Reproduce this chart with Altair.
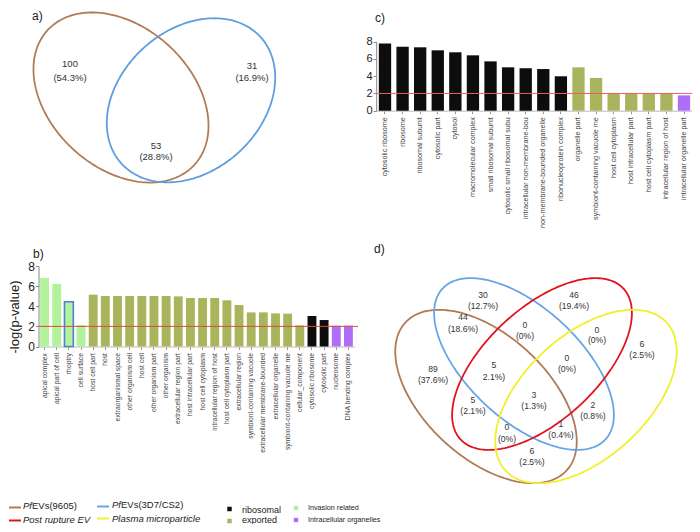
import altair as alt
import numpy as np
import pandas as pd

FONT = "Liberation Sans"

# ---------------- data ----------------
group_names = ["ribosomal", "exported", "Invasion related", "Intracellular organelles"]
group_colors = ["#0d0d0d", "#a9b45c", "#b2f29a", "#b06ef8"]

b_terms = ["apical complex", "apical part of cell", "rhoptry", "cell surface", "host cell part", "host",
           "extraorganismal space", "other organism cell", "host cell", "other organism part",
           "other organism", "extracellular region part", "host intracellular part", "host cell cytoplasm",
           "intracellular region of host", "host cell cytoplasm part", "extracellular region",
           "symbiont-containing vacuole", "extracellular membrane-bounded", "extracellular organelle",
           "symbiont-containing vacuole me", "cellular_component", "cytosolic ribosome", "cytosolic part",
           "nucleosome", "DNA bending complex"]
b_values = [6.80, 6.21, 4.45, 2.14, 5.15, 5.02, 5.02, 5.02, 5.02, 5.02, 5.02, 4.98, 4.82, 4.82, 4.82,
            4.59, 4.12, 3.39, 3.39, 3.29, 3.26, 2.10, 3.03, 2.63, 2.07, 2.07]
b_groups = ["Invasion related"] * 4 + ["exported"] * 18 + ["ribosomal"] * 2 + ["Intracellular organelles"] * 2

c_terms = ["cytosolic ribosome", "ribosome", "ribosomal subunit", "cytosolic part", "cytosol",
           "macromolecular complex", "small ribosomal subunit", "cytosolic small ribosomal subu",
           "intracellular non-membrane-bou", "non-membrane-bounded organelle", "ribonucleoprotein complex",
           "organelle part", "symbiont-containing vacuole me", "host cell cytoplasm", "host intracellular part",
           "host cell cytoplasm part", "intracellular region of host", "intracellular organelle part"]
c_values = [7.80, 7.42, 7.35, 7.00, 6.77, 6.42, 5.72, 5.03, 4.91, 4.83, 3.99, 5.03, 3.79, 2.02, 2.02,
            2.02, 2.02, 1.78]
c_groups = ["ribosomal"] * 11 + ["exported"] * 6 + ["Intracellular organelles"]

threshold = [2]

# Venn diagrams: sets
venn_sets = ["a_9605", "a_3D7", "d_9605", "d_3D7", "d_rupture", "d_plasma"]
venn_colors = ["#b27c56", "#5d9de0", "#b07a55", "#66a6e8", "#e0141e", "#f0f02a"]
# ellipse geometry (page pixels)
ell_cx = [121, 191, 486, 524, 542, 586]
ell_cy = [97.5, 100.3, 396.5, 364, 364, 396.5]
ell_a = [99.6, 94, 109.4, 111, 111, 109.4]
ell_b = [70.5, 70.6, 61.5, 56, 56, 61.5]
ell_rot = [42.5, -42.3, 42.5, 42.8, -42.8, -42.5]

# Venn a labels
a_counts = ["100", "31", "53"]
a_pcts = ["(54.3%)", "(16.9%)", "(28.8%)"]
a_lx = [70, 252, 156]
a_cy = [63.5, 66, 145.5]
a_py = [77.5, 77.5, 157]

# Venn d labels
d_counts = ["30", "46", "44", "0", "0", "6", "89", "5", "0", "5", "3", "2", "0", "1", "6"]
d_pcts = ["(12.7%)", "(19.4%)", "(18.6%)", "(0%)", "(0%)", "(2.5%)", "(37.6%)", "2.1%)", "(0%)",
          "(2.1%)", "(1.3%)", "(0.8%)", "(0%)", "(0.4%)", "(2.5%)"]
d_lx = [483, 574, 463, 525, 597, 642, 433, 494, 567, 473, 534, 593, 507, 561, 532]
d_cy = [294.5, 294.5, 317, 325, 329.5, 343.5, 368.5, 365, 357.5, 399.5, 395, 405, 427, 423.5, 451]
d_py = [305.5, 306, 328.5, 335.5, 340, 354.5, 379.5, 377, 368.5, 411, 406, 415.5, 438.5, 434.5, 462]

panel_letters = ["a)", "b)", "c)", "d)"]
letter_x = [32, 33, 375, 374]
letter_y = [16, 254, 18, 249]

# legend
leg_line_names = ["PfEVs(9605)", "Post rupture EV", "PfEVs(3D7/CS2)", "Plasma microparticle"]
leg_line_colors = ["#b07a55", "#e0141e", "#66a6e8", "#f0f02a"]
leg_line_x = [9, 9, 97, 97]
leg_line_y = [507.5, 520.5, 506.5, 518.5]
leg_text_parts = [("Pf", "italic", 23, 505.5), ("EVs(9605)", "normal", 32, 505.5),
                  ("Post rupture EV", "italic", 23, 519.5),
                  ("Pf", "italic", 112, 504.5), ("EVs(3D7/CS2)", "normal", 121, 504.5),
                  ("Plasma microparticle", "italic", 112, 519)]
leg_sq_x = [229.5, 229.5, 296, 296]
leg_sq_y = [509, 521, 508, 520]
leg_sq_label_x = [242, 242, 308, 308]
leg_sq_label_y = [509.5, 520, 507.5, 520]
leg_sq_font = [9, 9, 7.2, 7.2]

# ---------------- scales ----------------
PX = alt.Scale(domain=[0, 700], range=[-8, 692], nice=False, zero=False)
PY = alt.Scale(domain=[0, 532], range=[-8, 524], nice=False, zero=False)
xp = lambda f: alt.X(f, type="quantitative", scale=PX, axis=None)
yp = lambda f: alt.Y(f, type="quantitative", scale=PY, axis=None)

# ---------------- Venn ----------------
rows = []
t = np.linspace(0, 2 * np.pi, 241)
for s, cx, cy, a, b, r in zip(venn_sets, ell_cx, ell_cy, ell_a, ell_b, ell_rot):
    th = np.deg2rad(r)
    xs = cx + a * np.cos(t) * np.cos(th) - b * np.sin(t) * np.sin(th)
    ys = cy + a * np.cos(t) * np.sin(th) + b * np.sin(t) * np.cos(th)
    for i, (x, y) in enumerate(zip(xs, ys)):
        rows.append({"set": s, "i": i, "x": x, "y": y})
ell_df = pd.DataFrame(rows)

ellipses = alt.Chart(ell_df).mark_line(strokeWidth=1.8).encode(
    x=xp("x"), y=yp("y"),
    stroke=alt.Stroke("set:N", scale=alt.Scale(domain=venn_sets, range=venn_colors), legend=None),
    detail="set:N", order="i:Q")

a_df = pd.DataFrame({"x": a_lx * 2, "y": a_cy + a_py, "t": a_counts + a_pcts})
a_text = alt.Chart(a_df).mark_text(font=FONT, fontSize=9.5, color="#333").encode(
    x=xp("x"), y=yp("y"), text="t:N")

d_df = pd.DataFrame({"x": d_lx * 2, "y": d_cy + d_py, "t": d_counts + d_pcts})
d_text = alt.Chart(d_df).mark_text(font=FONT, fontSize=8.6, color="#333").encode(
    x=xp("x"), y=yp("y"), text="t:N")

let_df = pd.DataFrame({"x": letter_x, "y": letter_y, "t": panel_letters})
letters = alt.Chart(let_df).mark_text(font=FONT, fontSize=12, color="#222", align="left").encode(
    x=xp("x"), y=yp("y"), text="t:N")

ytitle_df = pd.DataFrame({"x": [15], "y": [317], "t": ["-log(p-value)"]})
ytitle = alt.Chart(ytitle_df).mark_text(font=FONT, fontSize=13, color="#222", angle=270).encode(
    x=xp("x"), y=yp("y"), text="t:N")

# legend
ll_df = pd.DataFrame({"name": leg_line_names, "x": leg_line_x,
                      "x2": [v + 12 for v in leg_line_x], "y": leg_line_y})
leg_lines = alt.Chart(ll_df).mark_rule(strokeWidth=2).encode(
    x=xp("x"), x2="x2:Q", y=yp("y"),
    color=alt.Color("name:N", scale=alt.Scale(domain=leg_line_names, range=leg_line_colors), legend=None))

lt_df = pd.DataFrame([{"t": p[0], "style": p[1], "x": p[2], "y": p[3]} for p in leg_text_parts])
leg_text_it = alt.Chart(lt_df).transform_filter("datum.style == 'italic'").mark_text(
    font=FONT, fontSize=9.5, fontStyle="italic", color="#222", align="left").encode(
    x=xp("x"), y=yp("y"), text="t:N")
leg_text_n = alt.Chart(lt_df).transform_filter("datum.style == 'normal'").mark_text(
    font=FONT, fontSize=9.5, color="#222", align="left").encode(
    x=xp("x"), y=yp("y"), text="t:N")

sq_df = pd.DataFrame({"g": group_names, "x": leg_sq_x, "y": leg_sq_y,
                      "lx": leg_sq_label_x, "ly": leg_sq_label_y, "fs": leg_sq_font})
leg_sq = alt.Chart(sq_df).mark_square(size=20, opacity=1).encode(
    x=xp("x"), y=yp("y"),
    fill=alt.Fill("g:N", scale=alt.Scale(domain=group_names, range=group_colors), legend=None))
leg_sq_text = alt.Chart(sq_df).mark_text(font=FONT, color="#222", align="left").encode(
    x=xp("lx"), y=yp("ly"), text="g:N", size=alt.Size("fs:Q", scale=None))

pixel_layer = alt.layer(ellipses, a_text, d_text, letters, ytitle, leg_lines,
                        leg_text_it, leg_text_n, leg_sq, leg_sq_text)

# ---------------- bar panels ----------------
H = 516
def bar_panel(terms, values, groups, x0, x1, y0, y8, pin, label_fs, tick_fs, rule_x0, rule_x1, rule_color,
              outline_term=None):
    df = pd.DataFrame({"term": terms, "value": values, "group": groups})
    xs = alt.X("term:N", sort=None, title=None,
               scale=alt.Scale(range=[x0 - 8, x1 - 8], paddingInner=pin, paddingOuter=pin / 2),
               axis=alt.Axis(orient="bottom", offset=(y0 - 8) - H, labelAngle=270, labelFont=FONT,
                             labelFontSize=label_fs, labelColor="#444", tickSize=3, tickColor="#999",
                             domainColor="#bbb", labelPadding=3, labelLimit=300))
    ys = alt.Y("value:Q", title=None,
               scale=alt.Scale(domain=[0, 8], range=[y0 - 8, y8 - 8], nice=False, zero=True),
               axis=alt.Axis(orient="left", offset=-(x0 - 8), values=[0, 2, 4, 6, 8], format="d",
                             grid=False, labelFont=FONT, labelFontSize=tick_fs, labelColor="#222",
                             tickSize=3, tickColor="#888", domainColor="#888", labelPadding=1))
    enc = dict(x=xs, y=ys,
               fill=alt.Fill("group:N", scale=alt.Scale(domain=group_names, range=group_colors), legend=None))
    if outline_term:
        enc["stroke"] = alt.condition(alt.datum.term == outline_term, alt.value("#4f7fd6"),
                                      alt.value("transparent"))
        enc["strokeWidth"] = alt.condition(alt.datum.term == outline_term, alt.value(1.6), alt.value(0))
    bars = alt.Chart(df).mark_bar().encode(**enc)
    rule = alt.Chart(pd.DataFrame({"v": threshold})).mark_rule(color=rule_color, strokeWidth=1).encode(
        y="v:Q", x=alt.value(rule_x0 - 8), x2=alt.value(rule_x1 - 8))
    return alt.layer(bars, rule)

panel_b = bar_panel(b_terms, b_values, b_groups, 38.5, 354.5, 346.5, 266, 0.27, 6.8, 12,
                    38.5, 358, "#d9502b", outline_term="rhoptry")
panel_c = bar_panel(c_terms, c_values, c_groups, 376.2, 692.8, 110.7, 41.7, 0.3, 7.2, 11,
                    376.2, 693, "#e8606a")

chart = alt.layer(pixel_layer, panel_b, panel_c).resolve_scale(
    x="independent", y="independent", fill="independent", stroke="independent", color="independent"
).properties(width=684, height=516, padding=0, autosize=alt.AutoSizeParams(type="none"),
             background="white").configure_view(stroke=None)

chart.save("out.html", embed_options={"renderer": "svg", "actions": False})
